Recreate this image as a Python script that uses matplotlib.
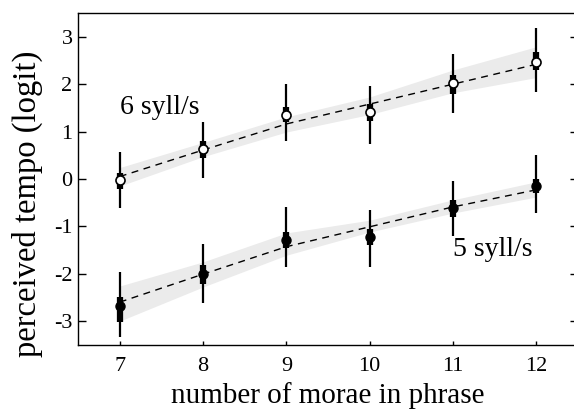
import matplotlib.pyplot as plt

# -----------------------------
# DATA
# -----------------------------
morae = [7, 8, 9, 10, 11, 12]

# 6 syll/s (open circles)
fast_mean = [-0.02, 0.63, 1.35, 1.41, 2.03, 2.47]
fast_lo = [-0.61, 0.02, 0.80, 0.74, 1.39, 1.84]
fast_hi = [0.57, 1.20, 2.00, 1.97, 2.64, 3.19]
fast_in_lo = [-0.22, 0.45, 1.20, 1.22, 1.80, 2.30]
fast_in_hi = [0.12, 0.80, 1.52, 1.58, 2.20, 2.68]
fast_fit = [0.05, 0.61, 1.16, 1.58, 2.00, 2.42]
fast_band_lo = [-0.15, 0.47, 0.99, 1.36, 1.82, 2.14]
fast_band_hi = [0.24, 0.77, 1.31, 1.73, 2.30, 2.79]

# 5 syll/s (filled circles)
slow_mean = [-2.68, -2.01, -1.29, -1.23, -0.61, -0.15]
slow_lo = [-3.34, -2.62, -1.86, -1.86, -1.20, -0.72]
slow_hi = [-1.97, -1.37, -0.59, -0.66, -0.04, 0.51]
slow_in_lo = [-3.02, -2.22, -1.45, -1.40, -0.80, -0.30]
slow_in_hi = [-2.49, -1.82, -1.12, -1.06, -0.45, 0.00]
slow_fit = [-2.60, -2.01, -1.43, -1.01, -0.59, -0.23]
slow_band_lo = [-3.00, -2.28, -1.61, -1.12, -0.72, -0.38]
slow_band_hi = [-2.26, -1.75, -1.14, -0.87, -0.44, -0.06]

xticks = [7, 8, 9, 10, 11, 12]
yticks = [-3, -2, -1, 0, 1, 2, 3]

# -----------------------------
# PLOTTING
# -----------------------------
plt.rcParams['font.family'] = ['Liberation Serif', 'DejaVu Serif']

fig = plt.figure(figsize=(5.74, 4.09), dpi=100)
ax = fig.add_axes([0.136, 0.157, 0.871, 0.811])

for lo, hi in [(fast_band_lo, fast_band_hi), (slow_band_lo, slow_band_hi)]:
    ax.fill_between(morae, lo, hi, color='#ebebeb', lw=0, zorder=1)

for fit in [fast_fit, slow_fit]:
    ax.plot(morae, fit, color='black', lw=1.0, dashes=(5, 4), zorder=2)

# outer (thin) and inner (thick) intervals
ax.vlines(morae, fast_lo, fast_hi, color='black', lw=1.6, zorder=3)
ax.vlines(morae, fast_in_lo, fast_in_hi, color='black', lw=4.5, zorder=3)
ax.vlines(morae, slow_lo, slow_hi, color='black', lw=1.6, zorder=3)
ax.vlines(morae, slow_in_lo, slow_in_hi, color='black', lw=4.5, zorder=3)

ax.plot(morae, fast_mean, 'o', ms=6.5, mfc='white', mec='black', mew=1.2, zorder=4)
ax.plot(morae, slow_mean, 'o', ms=6.5, mfc='black', mec='black', zorder=4)

ax.text(7.0, 1.5, "6 syll/s", fontsize=20, va='center', ha='left')
ax.text(11.0, -1.48, "5 syll/s", fontsize=20, va='center', ha='left')

ax.set_xlim(6.5, 12.5)
ax.set_ylim(-3.5, 3.5)
ax.set_xticks(xticks)
ax.set_yticks(yticks)
ax.set_yticklabels([str(v) for v in yticks])
ax.tick_params(axis='y', direction='in', length=6, width=1, left=True, right=True,
               labelsize=16, pad=4)
ax.tick_params(axis='x', direction='in', length=3, width=1, top=False,
               labelsize=16, pad=9)
for s in ax.spines.values():
    s.set_linewidth(1.0)
ax.spines['right'].set_visible(False)

ax.set_xlabel("number of morae in phrase", fontsize=21, labelpad=4)
ax.set_ylabel("perceived tempo (logit)", fontsize=23.5, va='center')
ax.yaxis.set_label_coords(-0.102, 0.425)

fig.savefig("out.png", dpi=100)
